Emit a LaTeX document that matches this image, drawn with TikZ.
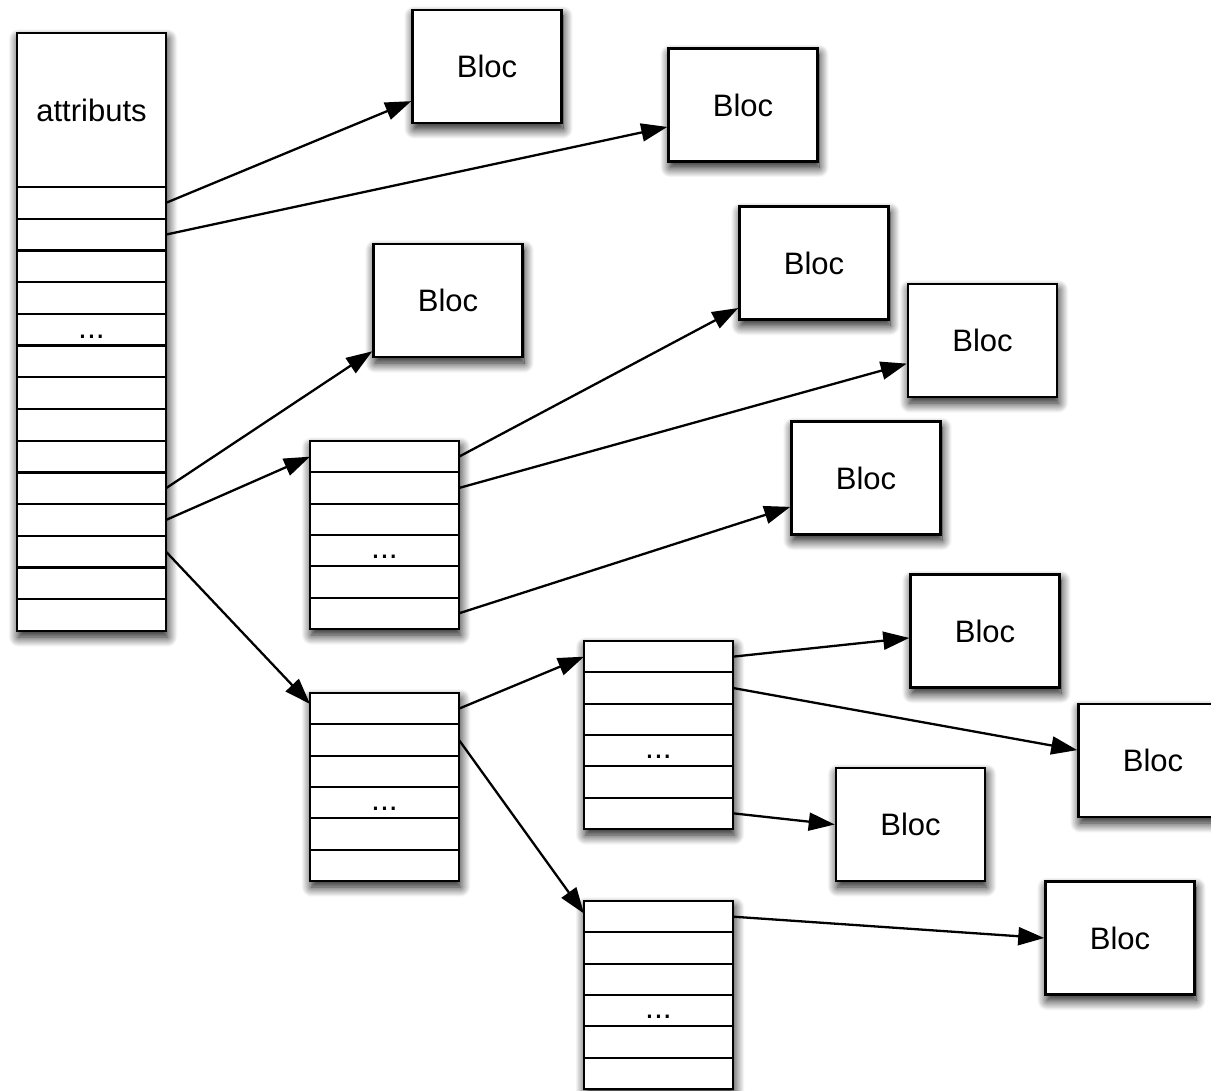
\documentclass[tikz,border=0pt]{standalone}
\usepackage{fontspec}
\setmainfont{Liberation Sans}
\usetikzlibrary{arrows.meta,shadows.blur,calc}

\begin{document}
\begin{tikzpicture}[x=1pt,y=-1pt,
  dropshade/.style={blur shadow={shadow xshift=1.5pt,shadow yshift=-6pt,
      shadow blur radius=10pt,shadow blur steps=16,shadow opacity=95}},
  bloc/.style={draw,line width=2.5pt,fill=white,minimum width=149pt,
      minimum height=113pt,inner sep=0pt,font=\fontsize{31}{36}\selectfont,dropshade},
  table/.style={fill=white,minimum width=149pt,minimum height=#1,inner sep=0pt,
      outer sep=0pt,anchor=north west,dropshade},
  cell/.style={draw,line width=2.3pt,fill=white,minimum width=#1,
      minimum height=31.5pt,inner sep=0pt,outer sep=0pt,anchor=north west},
  frame/.style={draw,line width=2.7pt},
  ptr/.style={line width=2.3pt,-{Triangle[length=26pt,width=18pt]}},
  dots/.style={font=\fontsize{32}{36}\selectfont,anchor=base,inner sep=0pt},
]
\useasboundingbox (0,0) rectangle (1211,1091);
\clip (0,0) rectangle (1211,1091);

% ---------- inode: attributes + 14 block pointers ----------
\node[table=598pt] (inode) at (17,33) {};
\node[cell=149pt,minimum height=154pt] (attr) at (17,33)
  {\fontsize{31}{36}\selectfont attributs};
\foreach \i in {1,...,14}
  \node[cell=149pt,minimum height=31.71pt] (ino\i) at (17,{187+(\i-1)*31.71}) {};
\draw[frame] (inode.north west) rectangle (inode.south east);
\node[dots] (inodots) at ($(ino5.south)+(0,-7.5)$) {...};

% ---------- indirection tables ----------
\foreach \t/\x/\y in {ia/310/441, ib/310/693, ic/584/641, id/584/901} {
  \node[table=188pt] (\t) at (\x,\y) {};
  \foreach \i in {1,...,6}
    \node[cell=149pt,minimum height=31.33pt] (\t\i) at (\x,{\y+(\i-1)*31.33}) {};
  \draw[frame] (\t.north west) rectangle (\t.south east);
  \node[dots] (\t dots) at ($(\t4.south)+(0,-7.5)$) {...};
}

% ---------- data blocks ----------
\node[bloc] (b1)  at (487,66.5)   {Bloc};
\node[bloc] (b2)  at (743,105)    {Bloc};
\node[bloc] (b3)  at (448,300.5)  {Bloc};
\node[bloc] (b4)  at (814,263)    {Bloc};
\node[bloc] (b5)  at (982.5,340.5){Bloc};
\node[bloc] (b6)  at (866,478)    {Bloc};
\node[bloc] (b7)  at (985,631)    {Bloc};
\node[bloc] (b8)  at (1153,760.5) {Bloc};
\node[bloc] (b9)  at (910.5,824.5){Bloc};
\node[bloc] (b10) at (1120,938)   {Bloc};

% ---------- pointers ----------
\draw[ptr] (ino1.east)  -- ($(b1.south west)!0.20!(b1.north west)$);
\draw[ptr] (ino2.east)  -- ($(b2.south west)!0.31!(b2.north west)$);
\draw[ptr] (ino10.east) -- ($(b3.south west)!0.06!(b3.north west)$);
\draw[ptr] (ino11.east) -- (ia1.west);
\draw[ptr] (ino12.east) -- ($(ib1.south west)!0.65!(ib1.north west)$);

\draw[ptr] (ia1.east) -- ($(b4.south west)!0.11!(b4.north west)$);
\draw[ptr] (ia2.east) -- ($(b5.south west)!0.30!(b5.north west)$);
\draw[ptr] (ia6.east) -- ($(b6.south west)!0.25!(b6.north west)$);

\draw[ptr] (ib1.east) -- (ic1.west);
\draw[ptr] (ib2.east) -- ($(id1.south west)!0.6!(id1.north west)$);

\draw[ptr] (ic1.east) -- ($(b7.south west)!0.44!(b7.north west)$);
\draw[ptr] (ic2.east) -- ($(b8.south west)!0.59!(b8.north west)$);
\draw[ptr] (ic6.east) -- (b9.west);

\draw[ptr] (id1.east) -- (b10.west);
\end{tikzpicture}
\end{document}
